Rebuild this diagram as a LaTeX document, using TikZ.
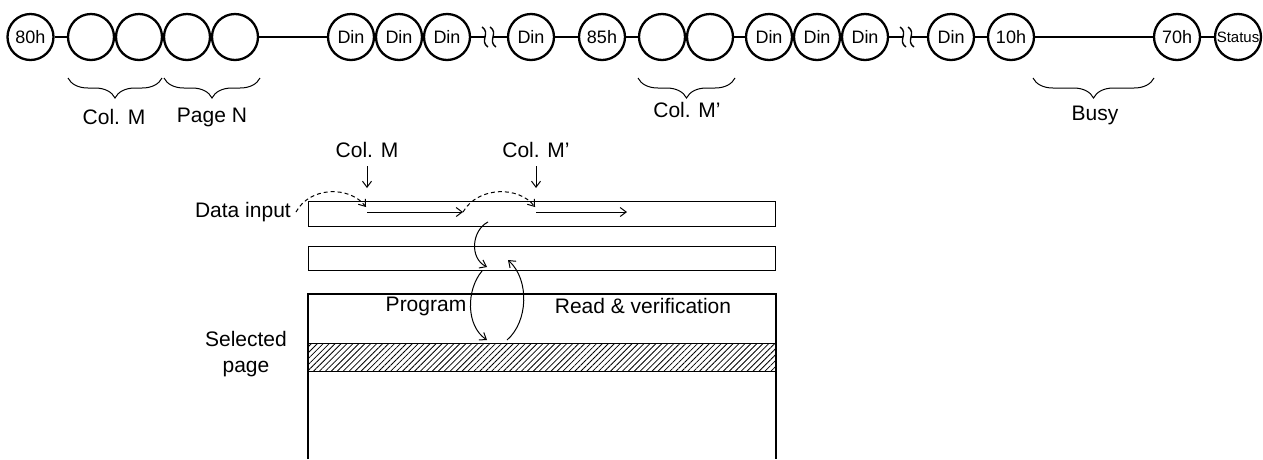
\documentclass[tikz,border=0pt]{standalone}
\usepackage{fontspec}
\setmainfont{Liberation Sans}
\usetikzlibrary{arrows.meta,decorations.pathreplacing,patterns.meta}
\begin{document}
\begin{tikzpicture}[x=1pt,y=-1pt,
 circ/.style={circle,draw,line width=2.3pt,minimum size=46pt,inner sep=0pt,font=\fontsize{18}{18}\selectfont},
 lbl/.style={font=\fontsize{21}{24}\selectfont,inner sep=0pt},
 bus/.style={line width=2.3pt},
 brc/.style={decorate,decoration={brace,mirror,amplitude=20pt},line width=1pt},
 thinl/.style={line width=1.3pt},
 arr/.style={line width=1pt,-{Straight Barb[length=6pt,width=9pt]}},
 boxr/.style={draw,thinl,inner sep=0pt,anchor=north west},
]
\useasboundingbox (0,0) rectangle (1263,459);
% top row
\node[circ] (c80) at (30.5,37) {80h};
\node[circ] (b1) at (91,37) {};
\node[circ] (b2) at (139,37) {};
\node[circ] (b3) at (187,37) {};
\node[circ] (b4) at (235,37) {};
\node[circ] (d1) at (351,37) {Din};
\node[circ] (d2) at (399,37) {Din};
\node[circ] (d3) at (447,37) {Din};
\node[circ] (d4) at (531,37) {Din};
\node[circ] (c85) at (602,37) {85h};
\node[circ] (b5) at (662,37) {};
\node[circ] (b6) at (710,37) {};
\node[circ] (d5) at (769,37) {Din};
\node[circ] (d6) at (817,37) {Din};
\node[circ] (d7) at (865,37) {Din};
\node[circ] (d8) at (951,37) {Din};
\node[circ] (c10) at (1011,37) {10h};
\node[circ] (c70) at (1177,37) {70h};
\node[circ,font=\fontsize{15}{15}\selectfont] (cst) at (1238,37) {Status};
\draw[bus] (c80) -- (b1);
\draw[bus] (b4) -- (d1);
\draw[bus] (d4) -- (c85);
\draw[bus] (c85) -- (b5);
\draw[bus] (b6) -- (d5);
\draw[bus] (d8) -- (c10);
\draw[bus] (c10) -- (c70);
\draw[bus] (c70) -- (cst);
% break marks
\coordinate (k1a) at (485,37);
\coordinate (k1b) at (493,37);
\coordinate (k2a) at (903,37);
\coordinate (k2b) at (911,37);
\draw[bus] (d3) -- (k1a);
\draw[bus] (k1b) -- (d4);
\draw[bus] (d7) -- (k2a);
\draw[bus] (k2b) -- (d8);
\draw[line width=1.4pt] (482,27) .. controls (491,33) and (479,41) .. (488,47);
\draw[line width=1.4pt] (490,27) .. controls (499,33) and (487,41) .. (496,47);
\draw[line width=1.4pt] (900,27) .. controls (909,33) and (897,41) .. (906,47);
\draw[line width=1.4pt] (908,27) .. controls (917,33) and (905,41) .. (914,47);
% braces
\draw[brc] (68,78) -- (162,78);
\draw[brc] (164,78) -- (260,78);
\draw[brc] (638,78) -- (735,78);
\draw[brc] (1033,78) -- (1154,78);
\node[lbl] (lcm) at (114,117) {Col. M};
\node[lbl] (lpn) at (212,117) {Page N};
\node[lbl] (lcm2) at (687,110) {Col. M’};
\node[lbl] (lbusy) at (1095,115) {Busy};
% buffers
\node[boxr,minimum width=467pt,minimum height=25pt] (buf1) at (308,201) {};
\node[boxr,minimum width=467pt,minimum height=24pt] (buf2) at (308,246) {};
\node[boxr,pattern={Lines[angle=45,distance=4.2pt,line width=0.8pt]},minimum width=468pt,minimum height=28pt] (band) at (308,343) {};
\coordinate (pgbl) at (308,459);
\coordinate (pgtl) at (308,294);
\coordinate (pgtr) at (776,294);
\coordinate (pgbr) at (776,459);
\draw[thinl] (pgbl) -- (pgtl) -- (pgtr) -- (pgbr);
% labels
\node[lbl,anchor=east] (ldin) at (291,212) {Data input};
\node[lbl,align=center,font=\fontsize{21}{26}\selectfont] (lsel) at (246,354) {Selected\\page};
\node[lbl] (lprog) at (426,306) {Program};
\node[lbl] (lrv) at (643,306) {Read \& verification};
\node[lbl] (ucm) at (367,150) {Col. M};
\node[lbl] (ucm2) at (536,150) {Col. M’};
% arrows
\coordinate (a1s) at (367,166);
\coordinate (a1e) at (367,188);
\coordinate (a2s) at (536,166);
\coordinate (a2e) at (536,188);
\draw[arr] (a1s) -- (a1e);
\draw[arr] (a2s) -- (a2e);
\coordinate (h1s) at (367,212);
\coordinate (h1e) at (463,212);
\coordinate (h2s) at (536,212);
\coordinate (h2e) at (627,212);
\draw[arr] (h1s) -- (h1e);
\draw[arr] (h2s) -- (h2e);
\coordinate (ds1) at (296,212);
\coordinate (de1) at (366,207);
\coordinate (de2) at (535,207);
\draw[arr,dash pattern=on 4pt off 3pt] (ds1) .. controls (310,186) and (350,186) .. (de1);
\draw[arr,dash pattern=on 4pt off 3pt] (h1e) .. controls (478,186) and (519,186) .. (de2);
\coordinate (x1s) at (488,222);
\coordinate (x1e) at (487,267);
\draw[arr] (x1s) .. controls (472,230) and (469,258) .. (x1e);
\coordinate (p1s) at (482,271);
\coordinate (p1e) at (487,340);
\draw[arr] (p1s) .. controls (466,290) and (466,326) .. (p1e);
\coordinate (r1s) at (507,340);
\coordinate (r1e) at (508,260);
\draw[arr] (r1s) .. controls (528,322) and (530,280) .. (r1e);
\end{tikzpicture}
\end{document}
